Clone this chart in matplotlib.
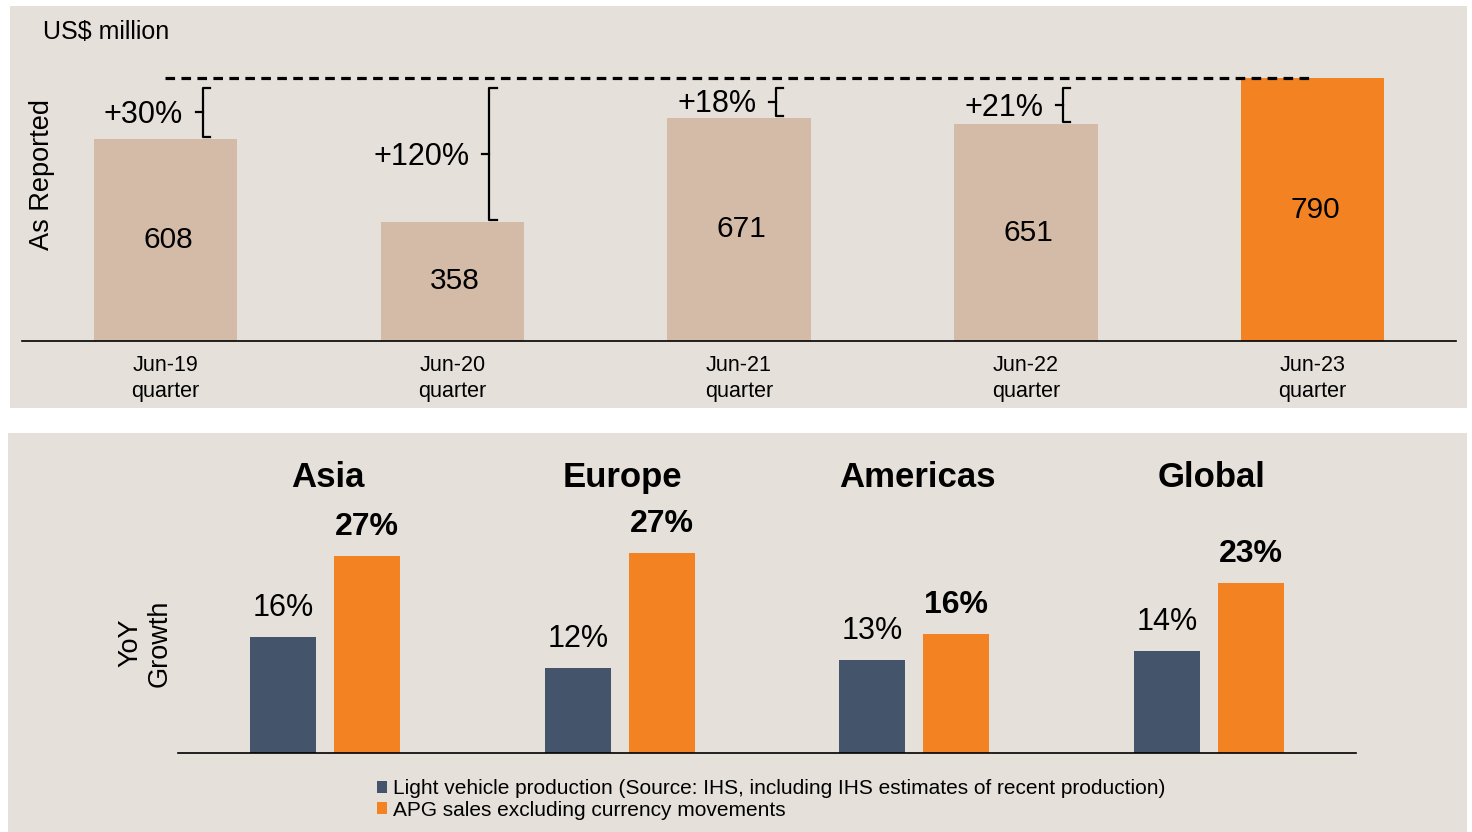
import matplotlib

matplotlib.use("Agg")
import matplotlib.pyplot as plt
from matplotlib.patches import Patch, Rectangle

plt.rcParams["font.family"] = ["Liberation Sans", "DejaVu Sans"]

# top chart: quarterly sales, US$ million
quarters = ["Jun-19\nquarter", "Jun-20\nquarter", "Jun-21\nquarter",
            "Jun-22\nquarter", "Jun-23\nquarter"]
sales = [608, 358, 671, 651, 790]
growth_to_latest = ["+30%", "+120%", "+18%", "+21%"]

# bottom chart: YoY growth by region (%)
regions = ["Asia", "Europe", "Americas", "Global"]
lvp_growth = [15.9, 11.6, 12.7, 14.0]
apg_growth = [27.0, 27.4, 16.3, 23.3]
series_names = [
    "Light vehicle production (Source: IHS, including IHS estimates of recent production)",
    "APG sales excluding currency movements",
]

BG = "#E5E1DA"
BEIGE = "#D4BBA8"
ORANGE = "#F38322"
NAVY = "#44546A"

W, H = 1472, 832
fig = plt.figure(figsize=(W / 100, H / 100), dpi=100, facecolor="white")


def px_axes(left, top, right, bottom):
    return fig.add_axes([left / W, 1 - bottom / H, (right - left) / W, (bottom - top) / H])


def panel(left, top, right, bottom):
    fig.add_artist(Rectangle((left / W, 1 - bottom / H), (right - left) / W,
                             (bottom - top) / H, transform=fig.transFigure,
                             facecolor=BG, edgecolor="none", zorder=0))


panel(10, 6, 1467, 408)
panel(8, 433, 1467, 832)

# ---- top chart ----
ax = px_axes(22, 30, 1456, 341)
ax.set_facecolor("none")
xs = range(len(sales))
colors = [BEIGE] * (len(sales) - 1) + [ORANGE]
ax.bar(xs, sales, width=0.5, color=colors, zorder=2)
for x, v in zip(xs, sales):
    ax.text(x + 0.01, v / 2, f"{v}", ha="center", va="center", fontsize=21.5)

latest = sales[-1]
ax.plot([0, len(sales) - 1], [latest, latest], color="black", lw=2.3,
        linestyle=(0, (3, 2)), zorder=3)

top = latest - 30
bx_off, hook, tick = 0.13, 0.025, 0.025
for x, v, lab in zip(xs, sales[:-1], growth_to_latest):
    bx = x + bx_off
    bottom = v + 6
    mid = (top + bottom) / 2
    ax.plot([bx + hook, bx, bx, bx + hook], [top, top, bottom, bottom],
            color="black", lw=1.6, solid_joinstyle="round", zorder=3)
    ax.plot([bx - tick, bx], [mid, mid], color="black", lw=1.6, zorder=3)
    ax.text(bx - tick - 0.045, mid - 8, lab, ha="right", va="center", fontsize=22)

ax.set_xlim(-0.5, len(sales) - 0.5)
ax.set_ylim(0, 311 / 0.3329)
ax.set_xticks(list(xs))
ax.set_xticklabels(quarters, fontsize=15.5, linespacing=1.3)
ax.set_yticks([])
ax.tick_params(axis="x", length=0, pad=10)
for side in ("top", "left", "right"):
    ax.spines[side].set_visible(False)
ax.spines["bottom"].set_linewidth(1.2)

fig.text(43 / W, 1 - 32 / H, "US$ million", ha="left", va="center", fontsize=18)
fig.text(42 / W, 1 - 175 / H, "As Reported", ha="center", va="center",
         rotation=90, fontsize=19.5)

# ---- bottom chart ----
bx_ = px_axes(178, 440, 1356, 753)
bx_.set_facecolor("none")
gx = range(len(regions))
off, bw = 0.142, 0.224
bx_.bar([g - off for g in gx], lvp_growth, width=bw, color=NAVY, zorder=2)
bx_.bar([g + off for g in gx], apg_growth, width=bw, color=ORANGE, zorder=2)
for g, a, b in zip(gx, lvp_growth, apg_growth):
    bx_.annotate(f"{round(a)}%", (g - off, a), xytext=(0, 21), textcoords="offset points",
                 ha="center", va="center", fontsize=22)
    bx_.annotate(f"{round(b)}%", (g + off, b), xytext=(0, 21), textcoords="offset points",
                 ha="center", va="center", fontsize=23, fontweight="bold")
for g, name in zip(gx, regions):
    bx_.text(g + 0.01, (753 - 478) / 313, name, transform=bx_.get_xaxis_transform(),
             ha="center", va="center", fontsize=25, fontweight="bold")

bx_.set_xlim(-0.5, len(regions) - 0.5)
bx_.set_ylim(0, 313 / 7.3)
bx_.set_xticks([])
bx_.set_yticks([])
for side in ("top", "left", "right"):
    bx_.spines[side].set_visible(False)
bx_.spines["bottom"].set_linewidth(1.2)

fig.text(145 / W, 1 - 643 / H, "YoY\nGrowth", ha="center", va="center",
         rotation=90, fontsize=19.5, linespacing=1.2)

handles = [Patch(facecolor=NAVY), Patch(facecolor=ORANGE)]
fig.legend(handles, series_names, loc="upper left",
           bbox_to_anchor=(377 / W, 1 - 779 / H), frameon=False, fontsize=15,
           handlelength=0.5, handleheight=0.5, handletextpad=0.25,
           labelspacing=0.12, borderpad=0, borderaxespad=0)

fig.savefig("out.png", dpi=100, facecolor="white")
